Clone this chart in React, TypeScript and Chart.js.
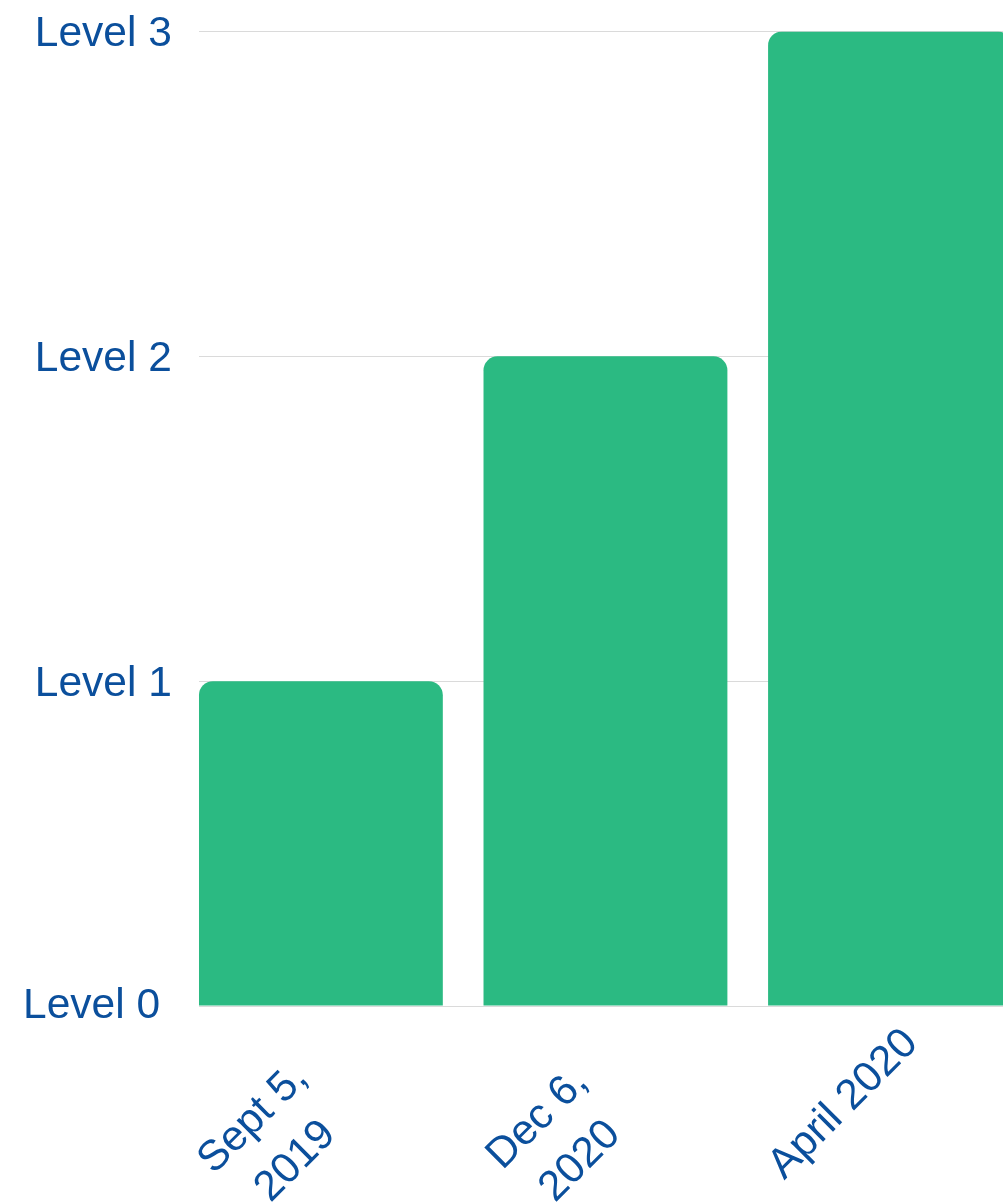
import React, { useEffect, useRef } from "react";
import { Chart, registerables } from "chart.js";

Chart.register(...registerables);

// ---- data ----
const categories: string[][] = [["Sept 5,", "2019"], ["Dec 6,", "2020"], ["April 2020"]];
const positions: number[] = [0, 1, 2];
const levels: number[] = [1, 2, 3];
const yTickLabels: string[] = ["Level 0 ", "Level 1", "Level 2", "Level 3"];

// ---- style ----
const BAR = "#2bba82";
const TEXT = "#0b4f9c";
const GRID = "#dadada";
const FONT = "'Liberation Sans', Arial, sans-serif";
const FONT_SIZE = 42.5;
const X_LINE_HEIGHT = 60;
const X_LABEL_DX = -46.5;
const X_LABEL_DY0 = 62.7;
const X_LABEL_DY_PER_LINE = 35.8;

// Rotated, centre-aligned category labels placed from the x scale.
const xLabelPlugin = {
  id: "rotatedCenteredXLabels",
  afterDraw(chart: any) {
    const ctx: CanvasRenderingContext2D = chart.ctx;
    const xs = chart.scales.x;
    const bottom = chart.chartArea.bottom;
    ctx.save();
    ctx.fillStyle = TEXT;
    ctx.font = `${FONT_SIZE}px ${FONT}`;
    ctx.textAlign = "center";
    ctx.textBaseline = "middle";
    positions.forEach((p, i) => {
      const lines = categories[i];
      const n = lines.length;
      const cx = xs.getPixelForValue(p) + X_LABEL_DX;
      const cy = bottom + X_LABEL_DY0 + X_LABEL_DY_PER_LINE * n;
      ctx.save();
      ctx.translate(cx, cy);
      ctx.rotate(-Math.PI / 4);
      lines.forEach((ln, j) => ctx.fillText(ln, 0, (j - (n - 1) / 2) * X_LINE_HEIGHT));
      ctx.restore();
    });
    ctx.restore();
  },
};

export default function App() {
  const ref = useRef<HTMLCanvasElement>(null);
  useEffect(() => {
    const chart = new Chart(ref.current!, {
      type: "bar",
      data: {
        datasets: [
          {
            data: positions.map((x, i) => ({ x, y: levels[i] })),
            backgroundColor: BAR,
            borderRadius: 14,
            borderSkipped: "start",
            barPercentage: 0.857,
            categoryPercentage: 1,
          },
        ],
      },
      options: {
        responsive: false,
        animation: false,
        devicePixelRatio: 1,
        layout: { padding: { left: 12, top: 23.5, right: 0, bottom: 196 } },
        plugins: { legend: { display: false }, tooltip: { enabled: false } },
        scales: {
          x: {
            type: "linear",
            display: false,
            offset: false,
            min: -0.4288,
            max: 2.397,
            afterBuildTicks: (s: any) => {
              s.ticks = positions.map((v) => ({ value: v }));
            },
          },
          y: {
            min: 0,
            max: 3,
            grid: { color: GRID, lineWidth: 1, drawTicks: true, tickLength: 24, tickColor: "rgba(0,0,0,0)" },
            border: { display: false },
            ticks: {
              stepSize: 1,
              padding: 3,
              color: TEXT,
              font: { family: FONT, size: FONT_SIZE, lineHeight: 6 / FONT_SIZE },
              callback: (v: any) => (v === 0 ? yTickLabels[v] : ["", yTickLabels[v as number]]),
            },
          },
        },
      },
      plugins: [xLabelPlugin],
    });
    return () => chart.destroy();
  }, []);
  return (
    <div
      style={{
        position: "fixed",
        left: 0,
        top: 0,
        width: 1003,
        height: 1202,
        overflow: "hidden",
        background: "#ffffff",
      }}
    >
      <canvas
        ref={ref}
        width={995}
        height={1194}
        style={{ display: "block", position: "absolute", left: 8, top: 8 }}
      />
    </div>
  );
}
